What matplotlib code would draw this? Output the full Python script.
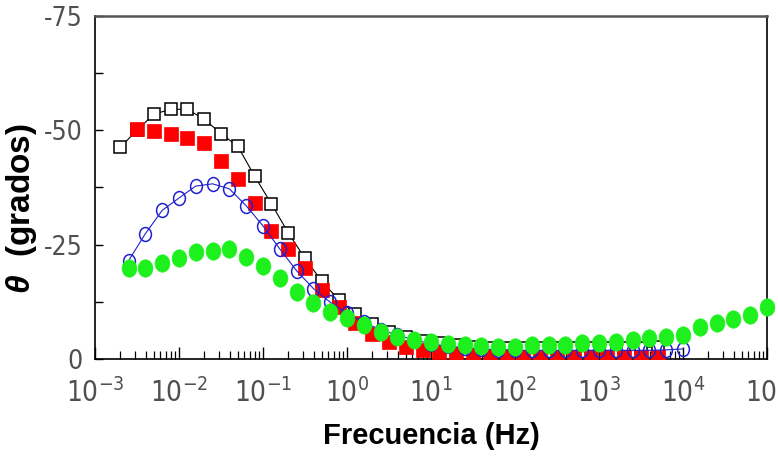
import numpy as np
import matplotlib
matplotlib.use('Agg')
import matplotlib.pyplot as plt
from matplotlib import font_manager
from matplotlib.markers import MarkerStyle
from matplotlib.transforms import Affine2D
from matplotlib.ticker import LogLocator, FixedLocator, NullFormatter

# frequencies (Hz)
f_black = [0.0020, 0.00316, 0.0050, 0.00794, 0.0126, 0.0200, 0.0316, 0.0501, 0.0794,
           0.126, 0.200, 0.316, 0.501, 0.794, 1.26, 2.00, 3.16, 5.01, 7.94,
           12.6, 20.0, 31.6, 50.1, 79.4, 126, 200, 316, 501, 794, 1259, 1995, 3162, 5012]
theta_black = [-46.3, -50.0, -53.5, -54.6, -54.6, -52.4, -49.3, -46.5, -40.0,
               -33.9, -27.6, -22.0, -17.0, -13.0, -9.8, -7.6, -6.0, -4.9, -4.0,
               -3.4, -3.0, -2.7, -2.5, -2.4, -2.4, -2.4, -2.4, -2.4, -2.4, -2.4, -2.5, -2.5, -2.6]

f_red = [0.00316, 0.0050, 0.00794, 0.0126, 0.0200, 0.0316, 0.0501, 0.0794,
         0.126, 0.200, 0.316, 0.501, 0.794, 1.26, 2.00, 3.16, 5.01, 7.94,
         12.6, 20.0, 31.6, 50.1, 79.4, 126, 200, 316, 501, 794, 1259, 1995, 3162, 5012]
theta_red = [-50.2, -49.8, -49.1, -48.3, -47.2, -43.3, -39.3, -34.0,
             -28.0, -24.1, -19.8, -15.0, -11.3, -7.8, -5.5, -3.8, -2.6, -2.0,
             -1.5, -1.1, -0.8, -0.7, -0.6, -0.5, -0.5, -0.5, -0.5, -0.5, -0.5, -0.5, -0.5, -0.5]

f_blue = [0.00251, 0.00398, 0.00631, 0.0100, 0.0158, 0.0251, 0.0398, 0.0631, 0.100,
          0.158, 0.251, 0.398, 0.631, 1.00, 1.58, 2.51, 3.98, 6.31, 10.0,
          15.8, 25.1, 39.8, 63.1, 100, 158, 251, 398, 631, 1000, 1585, 2512, 3981, 6310, 10000]
theta_blue = [-21.5, -27.4, -32.5, -35.2, -37.8, -38.3, -37.2, -33.5, -29.1,
              -24.1, -19.3, -15.4, -12.4, -10.0, -8.0, -6.4, -5.2, -4.2, -3.3,
              -2.8, -2.5, -2.2, -2.0, -1.9, -1.9, -1.9, -1.9, -1.9, -1.9, -1.9, -1.9, -1.9, -2.0, -2.2]

f_green = [0.00251, 0.00398, 0.00631, 0.0100, 0.0158, 0.0251, 0.0398, 0.0631, 0.100,
           0.158, 0.251, 0.398, 0.631, 1.00, 1.58, 2.51, 3.98, 6.31, 10.0,
           15.8, 25.1, 39.8, 63.1, 100, 158, 251, 398, 631, 1000, 1585, 2512, 3981, 6310,
           10000, 15849, 25119, 39811, 63096, 100000]
theta_green = [-19.8, -20.0, -20.9, -22.0, -23.3, -23.7, -24.1, -22.2, -20.4,
               -17.6, -14.6, -12.2, -10.2, -8.9, -7.4, -5.9, -4.8, -4.1, -3.7,
               -3.2, -3.0, -2.8, -2.7, -2.7, -3.0, -3.0, -3.0, -3.4, -3.4, -3.8, -4.1, -4.5, -4.8,
               -5.2, -6.9, -7.8, -8.8, -9.6, -11.4]

# pick a narrow face for the tick labels if one is installed
narrow_font, narrow_stretch = 'Liberation Sans', 'normal'
for fe in font_manager.fontManager.ttflist:
    st = str(fe.stretch).lower()
    if 'narrow' in fe.name.lower() or 'condensed' in fe.name.lower():
        narrow_font, narrow_stretch = fe.name, 'normal'
        break
    if fe.name in ('Liberation Sans', 'DejaVu Sans', 'Noto Sans', 'Roboto', 'Open Sans') \
            and st in ('condensed', 'semi-condensed', '500', '400', '300'):
        narrow_font, narrow_stretch = fe.name, 'condensed'
        break

plt.rcParams['font.family'] = [narrow_font, 'DejaVu Sans']
plt.rcParams['font.stretch'] = narrow_stretch
plt.rcParams['axes.unicode_minus'] = False
plt.rcParams['mathtext.fontset'] = 'custom'
plt.rcParams['mathtext.bf'] = 'Liberation Sans:bold'
plt.rcParams['mathtext.bfit'] = 'Liberation Sans:bold:italic'

fig = plt.figure(figsize=(7.78, 4.59), dpi=100)
ax = fig.add_axes([0.1221, 0.2179, 0.8638, 0.7473])

ellipse = MarkerStyle('o', transform=Affine2D().scale(0.85, 1.0))

ax.plot(f_black, theta_black, color='black', lw=0.8, marker='s', ms=9.2,
        mfc='white', mec='black', mew=1.1, clip_on=False, zorder=3)
ax.plot(f_red, theta_red, ls='none', marker='s', ms=9.4,
        mfc='#ff0000', mec='#ff0000', mew=0.5, zorder=4)
ax.plot(f_blue, theta_blue, color='#2020d0', lw=0.8, marker=ellipse, ms=10,
        mfc='none', mec='#2020d0', mew=1.1, zorder=5)
ax.plot(f_green, theta_green, ls='none', marker=ellipse, ms=12.5,
        mfc='#1ef01e', mec='#1ef01e', mew=0.5, clip_on=False, zorder=6)

ax.set_xscale('log')
ax.set_xlim(1e-3, 1e5)
ax.set_ylim(0, -75)
ax.xaxis.set_major_locator(LogLocator(base=10, numticks=20))
ax.xaxis.set_minor_locator(LogLocator(base=10, subs=np.arange(2, 10), numticks=100))
ax.xaxis.set_minor_formatter(NullFormatter())
ax.yaxis.set_major_locator(FixedLocator([0, -25, -50, -75]))
ax.yaxis.set_minor_locator(FixedLocator([-12.5, -37.5, -62.5]))

ax.tick_params(axis='x', which='major', direction='in', length=9, width=1.0,
               labelsize=20, pad=14, labelcolor='#505050', top=False)
ax.tick_params(axis='x', which='minor', direction='in', length=5.5, width=0.9, top=False)
ax.tick_params(axis='y', which='both', direction='in', length=5.5, width=1.0,
               labelsize=19, pad=9, labelcolor='#505050', right=False)

for s in ['left', 'bottom', 'right']:
    ax.spines[s].set_linewidth(1.2)
ax.spines['top'].set_linewidth(1.8)
ax.spines['top'].set_color('#555555')

ax.set_xlabel('Frecuencia (Hz)', fontsize=21, fontweight='bold', fontstretch='normal',
              family=['Liberation Sans', 'DejaVu Sans'])
ax.xaxis.set_label_coords(0.5, -0.185)
ax.set_ylabel(r'$\mathbfit{\theta}$  (grados)', fontsize=24, fontweight='bold',
              fontstretch='normal', family=['Liberation Sans', 'DejaVu Sans'])
ax.yaxis.set_label_coords(-0.083, 0.44)

fig.savefig('out.png', dpi=100)
